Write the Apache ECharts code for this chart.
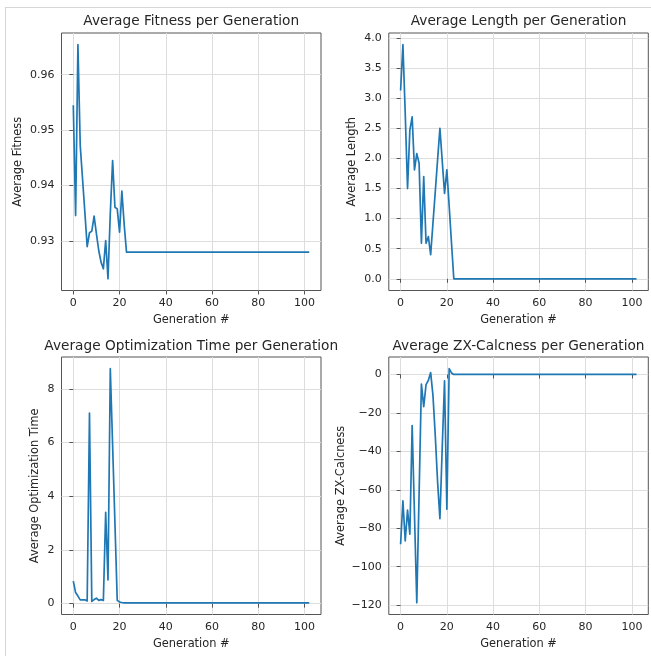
<!DOCTYPE html>
<html>
<head>
<meta charset="utf-8">
<script src="https://cdn.jsdelivr.net/npm/echarts@6/dist/echarts.min.js"></script>
<style>
  html, body { margin: 0; padding: 0; background: #ffffff; }
  #chart { width: 651px; height: 656px; }
</style>
</head>
<body>
<div id="chart"></div>
<script>
// Generation index of each sample; the run settles after generation 24 and
// stays flat until the last generation (102).
const generations = [0, 1, 2, 3, 4, 5, 6, 7, 8, 9, 10, 11, 12, 13, 14, 15, 16, 17, 18, 19, 20, 21, 22, 23, 24, 102];

const avgFitness = [0.9545, 0.9346, 0.9654, 0.9472, 0.9412, 0.9352, 0.9290, 0.9315, 0.9318, 0.9345,
  0.9313, 0.9283, 0.9262, 0.9250, 0.9301, 0.9232, 0.9350, 0.9445, 0.9361, 0.9358,
  0.9316, 0.9390, 0.9330, 0.9280, 0.9280, 0.9280];

const avgLength = [3.13, 3.89, 2.75, 1.50, 2.47, 2.69, 1.81, 2.08, 1.92, 0.59,
  1.70, 0.59, 0.70, 0.40, 0.93, 1.45, 1.98, 2.50, 1.96, 1.42,
  1.81, 1.21, 0.60, 0.00, 0.00, 0.00];

const avgOptTime = [0.84, 0.41, 0.28, 0.14, 0.14, 0.14, 0.10, 7.10, 0.08, 0.15,
  0.20, 0.12, 0.15, 0.12, 3.40, 0.88, 8.75, 5.90, 3.00, 0.12,
  0.06, 0.04, 0.03, 0.03, 0.03, 0.03];

const avgZxCalcness = [-88.3, -65.7, -86.6, -70.6, -83.1, -26.6, -72.7, -118.8, -62.0, -5.0,
  -16.8, -5.3, -3.1, 1.0, -11.0, -32.0, -56.0, -75.0, -38.0, -3.3,
  -70.1, 3.0, 0.8, 0.0, 0.0, 0.0];

// Tick positions
const generationTicks = [0, 20, 40, 60, 80, 100];
const fitnessTicks = [0.93, 0.94, 0.95, 0.96];
const lengthTicks = [0, 0.5, 1, 1.5, 2, 2.5, 3, 3.5, 4];
const optTimeTicks = [0, 2, 4, 6, 8];
const zxTicks = [-120, -100, -80, -60, -40, -20, 0];

// Axis limits padded by 5% of the data span on each side
function paddedRange(values) {
  const lo = Math.min(...values);
  const hi = Math.max(...values);
  const pad = (hi - lo) * 0.05;
  return [lo - pad, hi + pad];
}

const FONT = '"DejaVu Sans", "Liberation Sans", sans-serif';
const TEXT = '#262626';
const FRAME = '#555555';
const GRID = '#dddddd';
const LINE = '#1f77b4';

const minus = (v) => (v < 0 ? '\u2212' + String(Math.abs(v)) : String(v));

const panels = [
  { title: 'Average Fitness per Generation', yName: 'Average Fitness', values: avgFitness, ticks: fitnessTicks,
    fmt: (v) => v.toFixed(2), box: { left: 61.5, top: 33, width: 259.5, height: 257.5 }, yGap: 38, titleY: 21 },
  { title: 'Average Length per Generation', yName: 'Average Length', values: avgLength, ticks: lengthTicks,
    fmt: (v) => v.toFixed(1), box: { left: 388.8, top: 33, width: 259.5, height: 257.5 }, yGap: 31, titleY: 21 },
  { title: 'Average Optimization Time per Generation', yName: 'Average Optimization Time', values: avgOptTime, ticks: optTimeTicks,
    fmt: (v) => String(v), box: { left: 61.5, top: 357, width: 259.5, height: 257.5 }, yGap: 20.5, titleY: 346 },
  { title: 'Average ZX-Calcness per Generation', yName: 'Average ZX-Calcness', values: avgZxCalcness, ticks: zxTicks,
    fmt: minus, box: { left: 388.8, top: 357, width: 259.5, height: 257.5 }, yGap: 42.5, titleY: 346 }
];

const xRange = paddedRange(generations);

const grids = [], xAxes = [], yAxes = [], series = [], graphics = [];

panels.forEach((p, i) => {
  grids.push(Object.assign({ show: true, borderColor: FRAME, borderWidth: 1, backgroundColor: 'transparent' }, p.box));

  xAxes.push({
    gridIndex: i, type: 'value', min: xRange[0], max: xRange[1],
    axisLine: { show: false },
    axisTick: { show: true, inside: false, length: 4, lineStyle: { color: FRAME, width: 1 }, customValues: generationTicks },
    axisLabel: { customValues: generationTicks, margin: 7, fontSize: 11, color: TEXT, fontFamily: FONT },
    splitLine: { show: true, lineStyle: { color: GRID, width: 1 } },
    name: 'Generation #', nameLocation: 'middle', nameGap: 24,
    nameTextStyle: { fontSize: 11.4, color: TEXT, fontFamily: FONT }
  });

  const yRange = paddedRange(p.values);
  yAxes.push({
    gridIndex: i, type: 'value', min: yRange[0], max: yRange[1],
    axisLine: { show: false },
    axisTick: { show: true, inside: false, length: 4, lineStyle: { color: FRAME, width: 1 }, customValues: p.ticks },
    axisLabel: { customValues: p.ticks, margin: 7, fontSize: 11, color: TEXT, fontFamily: FONT, formatter: p.fmt },
    splitLine: { show: true, lineStyle: { color: GRID, width: 1 } },
    name: p.yName, nameLocation: 'middle', nameGap: p.yGap, nameRotate: 90,
    nameTextStyle: { fontSize: 11.4, color: TEXT, fontFamily: FONT }
  });

  series.push({
    type: 'line', xAxisIndex: i, yAxisIndex: i,
    data: generations.map((g, k) => [g, p.values[k]]),
    showSymbol: false, symbol: 'none', clip: true,
    lineStyle: { color: LINE, width: 1.7, join: 'round' }
  });

  graphics.push({
    type: 'text', x: p.box.left + p.box.width / 2, y: p.titleY,
    style: { text: p.title, font: '13.7px ' + FONT, fill: TEXT,
      textAlign: 'center', textVerticalAlign: 'middle', align: 'center', verticalAlign: 'middle' }
  });
});

// Light frame along the top and left edges of the figure
graphics.push({ type: 'line', shape: { x1: 5, y1: 7.5, x2: 651, y2: 7.5 }, style: { stroke: '#d6d6d6', lineWidth: 1 } });
graphics.push({ type: 'line', shape: { x1: 5.5, y1: 7, x2: 5.5, y2: 656 }, style: { stroke: '#d6d6d6', lineWidth: 1 } });

const chart = echarts.init(document.getElementById('chart'), null, { renderer: 'canvas' });
chart.setOption({
  animation: false,
  backgroundColor: '#ffffff',
  grid: grids,
  xAxis: xAxes,
  yAxis: yAxes,
  series: series,
  graphic: graphics
});
</script>
</body>
</html>
